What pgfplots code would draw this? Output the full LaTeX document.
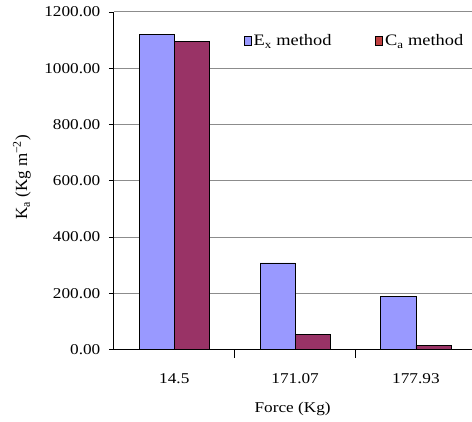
\documentclass[border=0pt]{standalone}
\usepackage{fontspec}
\setmainfont[FakeStretch=1.15]{Liberation Serif}
\newfontfamily\plainserif{Liberation Serif}
\usepackage{pgfplots}
\pgfplotsset{compat=1.18}
\definecolor{exc}{RGB}{153,153,255}
\definecolor{cac}{RGB}{153,51,102}
\definecolor{caleg}{RGB}{192,64,64}
\definecolor{gridc}{RGB}{140,140,140}
\begin{document}
\begin{tikzpicture}
\begin{axis}[
  scale only axis,
  width=358pt, height=338pt,
  xmin=-0.5, xmax=2.46,
  ymin=0, ymax=1200,
  axis x line*=bottom,
  axis y line*=left,
  axis line style={black, line width=0.8pt},
  ybar=0pt,
  bar width=0.29,
  ytick={0,200,...,1200},
  ymajorgrids,
  major grid style={gridc, line width=1pt},
  xtick={0,1,2},
  xticklabels={14.5,171.07,177.93},
  x tick style={draw=none},
  extra x ticks={0.5,1.5},
  extra x tick labels={},
  extra x tick style={major tick length=8pt, tick align=outside, x tick style={draw=black, line width=0.8pt}},
  y tick style={black, line width=0.8pt},
  major tick length=5pt,
  tick align=outside,
  font=\fontsize{15}{18}\selectfont,
  ticklabel style={font=\fontsize{15}{18}\selectfont},
  yticklabel style={xshift=-5pt, /pgf/number format/.cd, fixed, fixed zerofill, precision=2, 1000 sep={}, assume math mode=true},
  xticklabel style={yshift=-15pt},
  xlabel={Force (Kg)},
  every axis x label/.style={at={(axis description cs:0.5,0)}, anchor=center, yshift=-59pt},
  ylabel={K\textsubscript{a} (Kg m\textsuperscript{\char"2212 2})},
  every axis y label/.style={at={(axis description cs:-0.257,0.51)}, anchor=center, rotate=90, font=\fontsize{17}{20}\selectfont\plainserif},
  legend style={at={(axis description cs:0.355,0.945)}, anchor=north west, draw=none, fill=none, legend columns=2,
     font=\fontsize{16}{19}\selectfont,
     /tikz/every even column/.append style={column sep=42pt}},
  legend cell align=left,
]
\addplot[fill=exc, draw=black, line width=0.8pt,
  legend image code/.code={\draw[fill=exc, draw=black, line width=0.6pt] (0pt,-4pt) rectangle (7pt,5pt);}]
  coordinates {(0,1120) (1,308) (2,188)};
\addplot[fill=cac, draw=black, line width=0.8pt,
  legend image code/.code={\draw[fill=caleg, draw=black, line width=0.6pt] (0pt,-4pt) rectangle (7pt,5pt);}]
  coordinates {(0,1095) (1,54) (2,16)};
\legend{E\textsubscript{x} method, C\textsubscript{a} method}
\end{axis}
\path[use as bounding box] (-114pt,-72pt) rectangle (358pt,350pt);
\end{tikzpicture}
\end{document}
